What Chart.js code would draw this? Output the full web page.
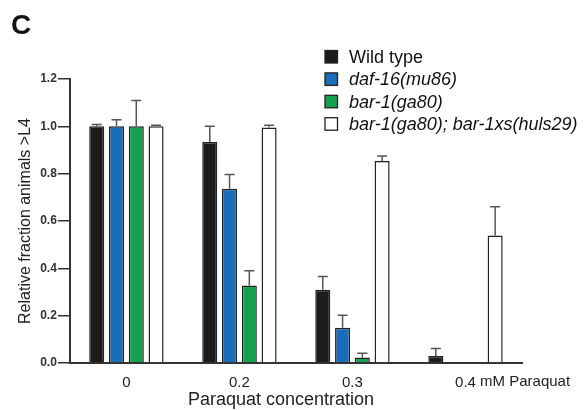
<!DOCTYPE html>
<html>
<head>
<meta charset="utf-8">
<script src="https://cdn.jsdelivr.net/npm/chart.js@4"></script>
<style>
  html, body { margin: 0; padding: 0; background: #fff; }
  #wrap { width: 584px; height: 410px; position: relative; }
</style>
</head>
<body>
<div id="wrap"><canvas id="chart" width="584" height="410"></canvas></div>
<script>
// categories (paraquat, mM) and strains
const concentrations = ['0', '0.2', '0.3', '0.4'];
const unitSuffix = ' mM Paraquat';
const xTitle = 'Paraquat concentration';
const strains = ['Wild type', 'daf-16(mu86)', 'bar-1(ga80)', 'bar-1(ga80); bar-1xs(huls29)'];
const strainItalic = [false, true, true, true];
const strainColors = ['#1c1c1c', '#1a6db8', '#17a04e', '#ffffff'];

// relative fraction values per strain
const wildType   = [1.00, 0.934, 0.31, 0.03];
const daf16      = [1.00, 0.736, 0.149, 0];
const bar1       = [1.00, 0.327, 0.023, 0];
const bar1xs     = [1.00, 0.995, 0.853, 0.539];

// upper error (absolute top of the whisker)
const wildTypeErr = [1.008, 1.00, 0.366, 0.061];
const daf16Err    = [1.028, 0.797, 0.202, null];
const bar1Err     = [1.109, 0.39, 0.041, null];
const bar1xsErr   = [1.005, 1.005, 0.875, 0.66];

const yTicks = [0, 0.2, 0.4, 0.6, 0.8, 1.0, 1.2];

const seriesValues = [wildType, daf16, bar1, bar1xs];
const seriesErrors = [wildTypeErr, daf16Err, bar1Err, bar1xsErr];

const FONT = '"Liberation Sans", Arial, sans-serif';
const X_TICK_PAD = 11;

// whiskers on top of the bars
const errorBars = {
    id: 'errorBars',
    afterDatasetsDraw(chart) {
        const ctx = chart.ctx;
        const y = chart.scales.y;
        ctx.save();
        ctx.strokeStyle = '#555';
        ctx.lineWidth = 1.5;
        chart.data.datasets.forEach((ds, di) => {
            const meta = chart.getDatasetMeta(di);
            meta.data.forEach((bar, i) => {
                const top = seriesErrors[di][i];
                if (top == null || !ds.data[i]) return;
                const yTop = y.getPixelForValue(top);
                const yBar = y.getPixelForValue(ds.data[i]);
                ctx.beginPath();
                ctx.moveTo(bar.x, yBar);
                ctx.lineTo(bar.x, yTop);
                ctx.moveTo(bar.x - 5, yTop);
                ctx.lineTo(bar.x + 5, yTop);
                ctx.stroke();
            });
        });
        ctx.restore();
    }
};

// panel letter, legend, unit after last tick, x title
const extras = {
    id: 'extras',
    afterDraw(chart) {
        const ctx = chart.ctx;
        ctx.save();
        ctx.fillStyle = '#111';
        ctx.font = 'bold 28px ' + FONT;
        ctx.textBaseline = 'middle';
        ctx.fillText('C', 11, 26);

        // legend
        strains.forEach((name, i) => {
            const yc = 57 + i * 22.4;
            ctx.fillStyle = strainColors[i];
            ctx.fillRect(325, yc - 6.5, 12.5, 12.5);
            ctx.strokeStyle = '#222';
            ctx.lineWidth = 1.3;
            ctx.strokeRect(325, yc - 6.5, 12.5, 12.5);
            ctx.fillStyle = '#111';
            ctx.font = (strainItalic[i] ? 'italic ' : '') + '18px ' + FONT;
            ctx.textAlign = 'left';
            ctx.fillText(name, 349, yc + 1);
        });

        // unit text after the last category label
        const x = chart.scales.x;
        const last = concentrations.length - 1;
        ctx.font = '15px ' + FONT;
        const w = ctx.measureText(concentrations[last]).width;
        ctx.fillStyle = '#222';
        ctx.textAlign = 'left';
        ctx.textBaseline = 'top';
        ctx.fillText(unitSuffix, x.getPixelForValue(last) + w / 2, x.top + X_TICK_PAD);

        // axis title
        ctx.font = '18px ' + FONT;
        ctx.textAlign = 'center';
        ctx.textBaseline = 'middle';
        ctx.fillText(xTitle, 281, 400);
        ctx.restore();
    }
};

const datasets = strains.map((name, i) => ({
    label: name,
    data: seriesValues[i],
    backgroundColor: strainColors[i],
    borderColor: '#222',
    borderWidth: 1.5,
    borderSkipped: 'bottom',
    categoryPercentage: 0.70,
    barPercentage: 0.76
}));

new Chart(document.getElementById('chart').getContext('2d'), {
    type: 'bar',
    data: { labels: concentrations, datasets: datasets },
    options: {
        responsive: false,
        animation: false,
        layout: { padding: { top: 79, right: 62, left: 16, bottom: 7 } },
        plugins: { legend: { display: false }, tooltip: { enabled: false } },
        scales: {
            x: {
                grid: { display: false, drawTicks: false },
                border: { color: '#333', width: 2 },
                ticks: { color: '#222', padding: X_TICK_PAD, font: { size: 15, family: FONT } }
            },
            y: {
                min: 0, max: 1.2,
                afterBuildTicks(axis) { axis.ticks = yTicks.map(v => ({ value: v })); },
                grid: { drawOnChartArea: false, tickLength: 12, color: '#333', lineWidth: 1.5 },
                border: { color: '#333', width: 2 },
                ticks: {
                    color: '#333', padding: 1,
                    font: { size: 12, weight: 'bold', family: '"Liberation Sans Narrow", ' + FONT },
                    callback: v => v.toFixed(1)
                },
                title: {
                    display: true, text: 'Relative fraction animals >L4', color: '#222',
                    padding: { top: 0, bottom: 4 },
                    font: { size: 16, family: FONT }
                }
            }
        }
    },
    plugins: [errorBars, extras]
});
</script>
</body>
</html>
